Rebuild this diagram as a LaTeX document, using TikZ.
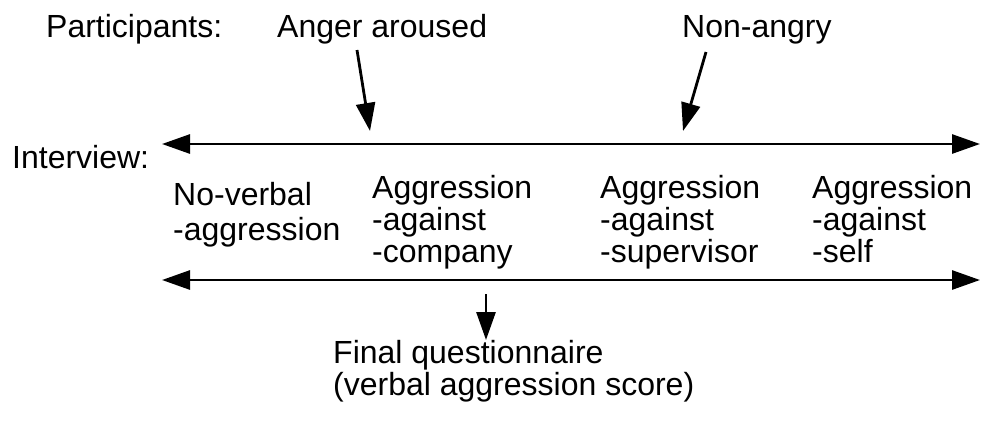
\documentclass[tikz,border=0pt]{standalone}
\usepackage{fontspec}
\setmainfont{Liberation Sans}
\usetikzlibrary{arrows.meta}

\begin{document}
\begin{tikzpicture}[x=1pt,y=-1pt,>={Triangle[length=28pt,width=19pt]},
	lbl/.style={anchor=base west,inner sep=0pt,font={\fontsize{32}{33}\selectfont}},
	axis/.style={<->,line width=2.8pt},
	pointer/.style={->,line width=2.8pt}]
	\useasboundingbox (0,0) rectangle (981,424);
	
	% headings
	\node[lbl] (part) at (46,37) {Participants:};
	\node[lbl] (anger) at (277,37) {Anger aroused};
	\node[lbl] (nonangry) at (682,37) {Non-angry};
	\node[lbl] (interview) at (12,168) {Interview:};
	
	% the two time lines
	\coordinate (topL) at (162,144);
	\coordinate (topR) at (980,144);
	\coordinate (botL) at (162,280);
	\coordinate (botR) at (980,280);
	\draw[axis] (topL)--(topR);
	\draw[axis] (botL)--(botR);
	
	% conditions
	\foreach \i/\txt in {1/No-verbal,2/-aggression}{
		\node[lbl] (nv\i) at (173,{205+35*(\i-1)}) {\txt};
	}
	\foreach \i/\txt in {1/Aggression,2/-against,3/-company}{
		\node[lbl] (comp\i) at (372,{198+32*(\i-1)}) {\txt};
	}
	\foreach \i/\txt in {1/Aggression,2/-against,3/-supervisor}{
		\node[lbl] (sup\i) at (600,{198+32*(\i-1)}) {\txt};
	}
	\foreach \i/\txt in {1/Aggression,2/-against,3/-self}{
		\node[lbl] (self\i) at (812,{198+32*(\i-1)}) {\txt};
	}
	
	% pointers
	\coordinate (angerS) at (357,50);
	\coordinate (angerE) at (370,131);
	\coordinate (nonS) at (706,52);
	\coordinate (nonE) at (683,131);
	\draw[pointer] (angerS)--(angerE);
	\draw[pointer] (nonS)--(nonE);
	
	\coordinate (finS) at (486,294);
	\coordinate (finE) at (486,340);
	\draw[pointer] (finS)--(finE);
	
	\node[lbl] (fin1) at (333,363) {Final questionnaire};
	\node[lbl] (fin2) at (333,395) {(verbal aggression score)};
\end{tikzpicture}
\end{document}
